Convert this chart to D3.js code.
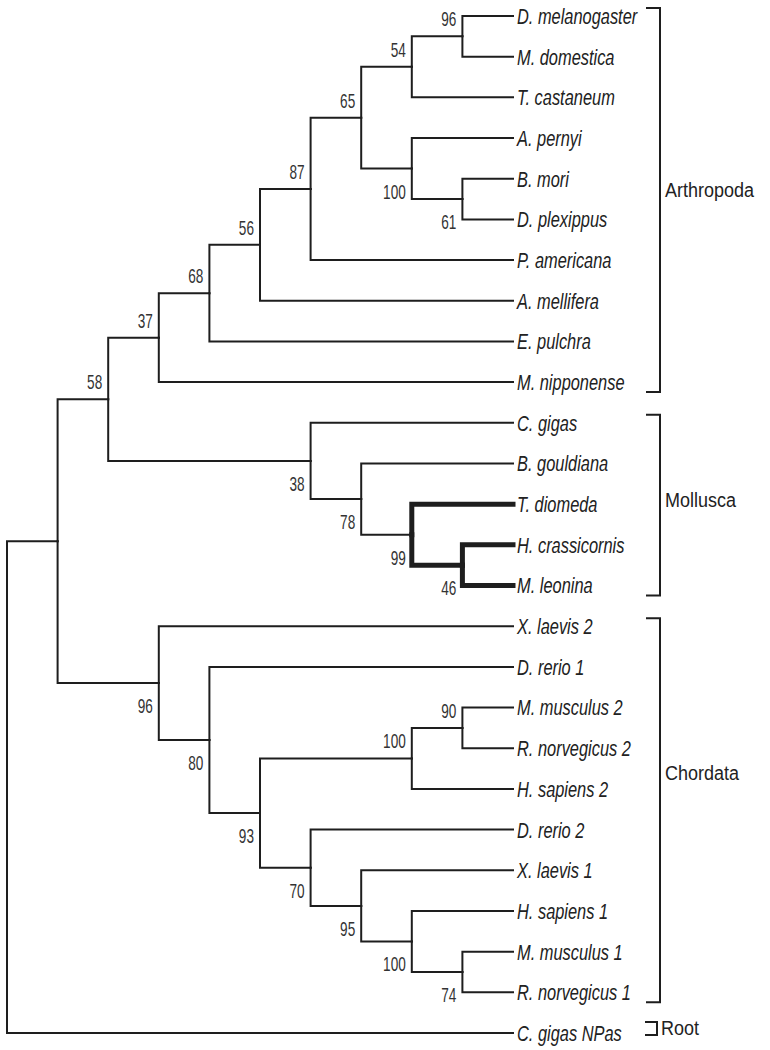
<!DOCTYPE html>
<html>
<head>
<meta charset="utf-8">
<script src="https://cdn.jsdelivr.net/npm/d3@7"></script>
<style>
  html, body { margin: 0; padding: 0; background: #fff; }
  svg { display: block; }
</style>
</head>
<body>
<svg id="chart" width="770" height="1050"></svg>
<script>
// ---------------- DATA ----------------
// Tree topology (Newick), internal labels = bootstrap support values
const newickTree =
  "((((((((((D. melanogaster,M. domestica)96,T. castaneum)54,(A. pernyi,(B. mori,D. plexippus)61)100)65,P. americana)87,A. mellifera)56,E. pulchra)68,M. nipponense)37," +
  "(C. gigas,(B. gouldiana,(T. diomeda,(H. crassicornis,M. leonina)46)99)78)38)58," +
  "(X. laevis 2,(D. rerio 1,(((M. musculus 2,R. norvegicus 2)90,H. sapiens 2)100,(D. rerio 2,(X. laevis 1,(H. sapiens 1,(M. musculus 1,R. norvegicus 1)74)100)95)70)93)80)96)," +
  "C. gigas NPas);";

// Highlighted (bold) clade members
const boldClade = ["T. diomeda", "H. crassicornis", "M. leonina"];

// Group brackets
const groupNames = ["Arthropoda", "Mollusca", "Chordata", "Root"];
const groupFirst = ["D. melanogaster", "C. gigas", "X. laevis 2", "C. gigas NPas"];
const groupLast  = ["M. nipponense", "M. leonina", "R. norvegicus 1", "C. gigas NPas"];

// ---------------- PARSER ----------------
function parseNewick(s) {
  let i = 0;
  function readLabel() {
    let start = i;
    while (i < s.length && !",();".includes(s[i])) i++;
    return s.slice(start, i).trim();
  }
  function node() {
    const n = {};
    if (s[i] === "(") {
      i++;
      n.children = [];
      while (true) {
        n.children.push(node());
        if (s[i] === ",") { i++; continue; }
        if (s[i] === ")") { i++; break; }
      }
      n.support = readLabel();
    } else {
      n.name = readLabel();
    }
    return n;
  }
  return node();
}

// ---------------- LAYOUT ----------------
const svg = d3.select("#chart");
svg.append("rect").attr("width", 770).attr("height", 1050).attr("fill", "#fff");

const root = d3.hierarchy(parseNewick(newickTree));
d3.cluster().nodeSize([1, 1]).separation(() => 1)(root);

const nodes = root.descendants();
const leaves = root.leaves();

const yScale = d3.scaleLinear()
  .domain(d3.extent(leaves, d => d.x))
  .range([16, 1033]);
const xScale = d3.scaleLinear()
  .domain([0, d3.max(nodes, d => d.y)])
  .range([7, 513]);

const X = d => xScale(d.y);
const Y = d => yScale(d.x);

// bold subtree: lowest common ancestor of the bold clade members
const boldLeaves = leaves.filter(l => boldClade.includes(l.data.name));
let lca = boldLeaves[0];
boldLeaves.forEach(l => { lca = lca.path(l).reduce((a, b) => a.depth < b.depth ? a : b); });
const boldSet = new Set(lca.descendants());

const ink = "#1e1e1e";
const FONT = "'Liberation Sans', Arial, sans-serif";

// ---------------- BRANCHES ----------------
svg.append("g")
  .attr("fill", "none")
  .selectAll("path")
  .data(root.links())
  .join("path")
  .attr("d", l => `M${X(l.source)},${Y(l.source)}V${Y(l.target)}H${X(l.target)}`)
  .attr("stroke", ink)
  .attr("stroke-width", l => boldSet.has(l.target) && boldSet.has(l.source) ? 5 : 2)
  .attr("stroke-linejoin", "miter")
  .attr("stroke-linecap", "square");

// ---------------- LEAF LABELS ----------------
svg.append("g")
  .selectAll("text")
  .data(leaves)
  .join("text")
  .attr("transform", d => `translate(${X(d) + 4},${Y(d)}) scale(0.82,1.1)`)
  .attr("dy", "0.36em")
  .attr("font-family", FONT)
  .attr("font-style", "italic")
  .attr("font-size", 20)
  .attr("fill", "#222")
  .text(d => d.data.name);

// ---------------- BOOTSTRAP LABELS ----------------
const internals = nodes.filter(d => d.children && d.data.support);
svg.append("g")
  .selectAll("text")
  .data(internals)
  .join("text")
  .attr("transform", d => {
    const first = d.parent && d.parent.children[0] === d;
    const ty = first ? Y(d) - 10 : Y(d) + 30;
    return `translate(${X(d) - 6},${ty}) scale(0.8,1.2)`;
  })
  .attr("text-anchor", "end")
  .attr("font-family", FONT)
  .attr("font-size", 17)
  .attr("fill", "#333")
  .text(d => d.data.support);

// ---------------- GROUP BRACKETS ----------------
const leafByName = new Map(leaves.map(l => [l.data.name, l]));
const bracketX = 660, tick = 14;
const labelShift = [-0.22, -0.1, -0.9, 0]; // label offset (leaf units) from group centre
const step = yScale(1) - yScale(0);
groupNames.forEach((g, i) => {
  const a = leafByName.get(groupFirst[i]), b = leafByName.get(groupLast[i]);
  const isRoot = groupFirst[i] === groupLast[i];
  let y0, y1, bx;
  if (isRoot) { y0 = Y(a) - 11; y1 = Y(a) + 2; bx = 657; }
  else { y0 = Y(a) - 8; y1 = Y(b) + 10; bx = bracketX; }
  const tk = isRoot ? 12 : tick;
  svg.append("path")
    .attr("d", `M${bx - tk},${y0}H${bx}V${y1}H${bx - tk}`)
    .attr("fill", "none")
    .attr("stroke", ink)
    .attr("stroke-width", 2);
  const cy = isRoot ? Y(a) - 5 : (Y(a) + Y(b)) / 2 + labelShift[i] * step;
  svg.append("text")
    .attr("transform", `translate(${bx + (isRoot ? 4 : 5)},${cy}) scale(1,1.12)`)
    .attr("dy", "0.36em")
    .attr("font-family", FONT)
    .attr("font-size", 18)
    .attr("fill", "#222")
    .text(g);
});
</script>
</body>
</html>
